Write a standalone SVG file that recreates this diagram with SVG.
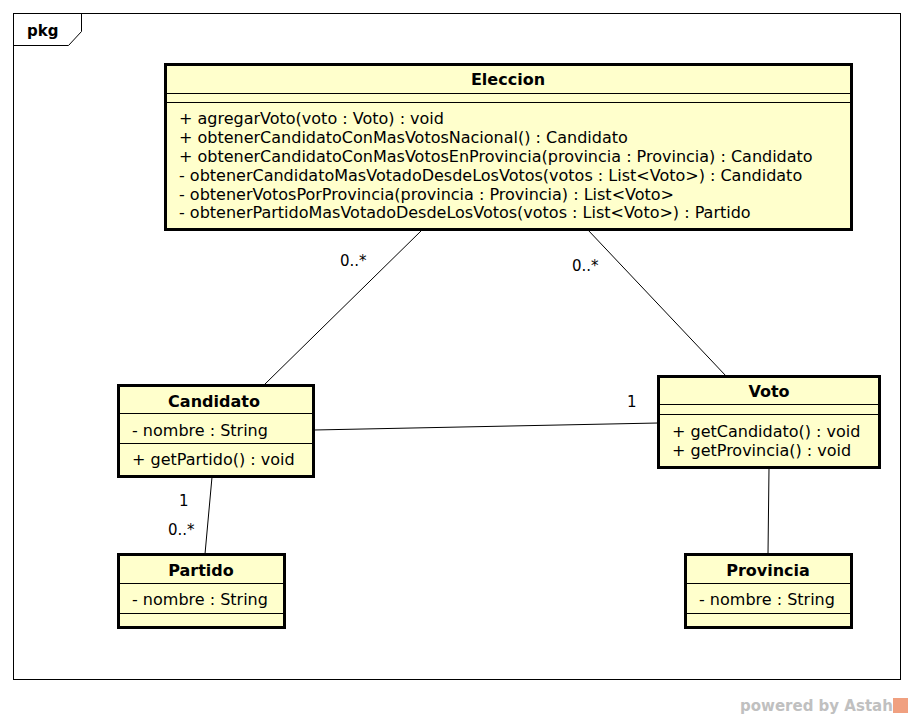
<svg xmlns="http://www.w3.org/2000/svg" width="913" height="718" viewBox="0 0 913 718">
<style>
text{font-family:"DejaVu Sans",sans-serif;font-size:15px;fill:#000}
.m{font-size:16px}
.t{font-weight:bold;text-anchor:middle;font-size:16px}
.box{fill:#ffffcc;stroke:#000;stroke-width:3}
.sep{stroke:#000;stroke-width:1}
.con{stroke:#000;stroke-width:1;fill:none}
</style>
<rect x="0" y="0" width="913" height="718" fill="#fff"/>
<g id="frame">
<rect x="13.5" y="13.5" width="887" height="666" fill="#fff" stroke="#000" stroke-width="1"/>
<path d="M13.5 45.5 H68.5 L81.5 31.5 V13.5" fill="none" stroke="#000" stroke-width="1"/>
<text x="27" y="36" style="font-weight:bold">pkg</text>
</g>
<g id="connectors">
<line class="con" x1="422" y1="230" x2="264" y2="385"/>
<line class="con" x1="588" y1="230" x2="726" y2="376"/>
<line class="con" x1="314" y1="430" x2="658" y2="423"/>
<line class="con" x1="212" y1="477" x2="205" y2="554"/>
<line class="con" x1="769" y1="468" x2="768" y2="554"/>
<text x="340" y="266">0..*</text>
<text x="572" y="271">0..*</text>
<text x="627" y="407">1</text>
<text x="179" y="506">1</text>
<text x="168" y="535">0..*</text>
</g>
<g id="Eleccion">
<rect class="box" x="165.5" y="64.5" width="686" height="165"/>
<line class="sep" x1="165" y1="93.5" x2="852" y2="93.5"/>
<line class="sep" x1="165" y1="102.5" x2="852" y2="102.5"/>
<text class="t" x="508" y="85">Eleccion</text>
<text class="m" x="179" y="124">+ agregarVoto(voto : Voto) : void</text>
<text class="m" x="179" y="143">+ obtenerCandidatoConMasVotosNacional() : Candidato</text>
<text class="m" x="179" y="162">+ obtenerCandidatoConMasVotosEnProvincia(provincia : Provincia) : Candidato</text>
<text class="m" x="179" y="181">- obtenerCandidatoMasVotadoDesdeLosVotos(votos : List&lt;Voto&gt;) : Candidato</text>
<text class="m" x="179" y="200">- obtenerVotosPorProvincia(provincia : Provincia) : List&lt;Voto&gt;</text>
<text class="m" x="179" y="218">- obtenerPartidoMasVotadoDesdeLosVotos(votos : List&lt;Voto&gt;) : Partido</text>
</g>
<g id="Candidato">
<rect class="box" x="118.5" y="385.5" width="195" height="91"/>
<line class="sep" x1="118" y1="413.5" x2="314" y2="413.5"/>
<line class="sep" x1="118" y1="443.5" x2="314" y2="443.5"/>
<text class="t" x="214" y="407">Candidato</text>
<text class="m" x="132" y="436">- nombre : String</text>
<text class="m" x="132" y="465">+ getPartido() : void</text>
</g>
<g id="Voto">
<rect class="box" x="658.5" y="376.5" width="221" height="91"/>
<line class="sep" x1="658" y1="404.5" x2="880" y2="404.5"/>
<line class="sep" x1="658" y1="414.5" x2="880" y2="414.5"/>
<text class="t" x="769" y="397">Voto</text>
<text class="m" x="672" y="437">+ getCandidato() : void</text>
<text class="m" x="672" y="456">+ getProvincia() : void</text>
</g>
<g id="Partido">
<rect class="box" x="118.5" y="554.5" width="166" height="73"/>
<line class="sep" x1="118" y1="583.5" x2="285" y2="583.5"/>
<line class="sep" x1="118" y1="613.5" x2="285" y2="613.5"/>
<text class="t" x="201" y="576">Partido</text>
<text class="m" x="132" y="605">- nombre : String</text>
</g>
<g id="Provincia">
<rect class="box" x="685.5" y="554.5" width="166" height="73"/>
<line class="sep" x1="685" y1="583.5" x2="852" y2="583.5"/>
<line class="sep" x1="685" y1="613.5" x2="852" y2="613.5"/>
<text class="t" x="768" y="576">Provincia</text>
<text class="m" x="699" y="605">- nombre : String</text>
</g>
<g id="watermark">
<text x="740" y="711" style="font-size:15px;font-weight:bold;fill:#c0c0c0">powered by Astah</text>
<rect x="893" y="698" width="15" height="15" fill="#f0a080"/>
</g>
</svg>
